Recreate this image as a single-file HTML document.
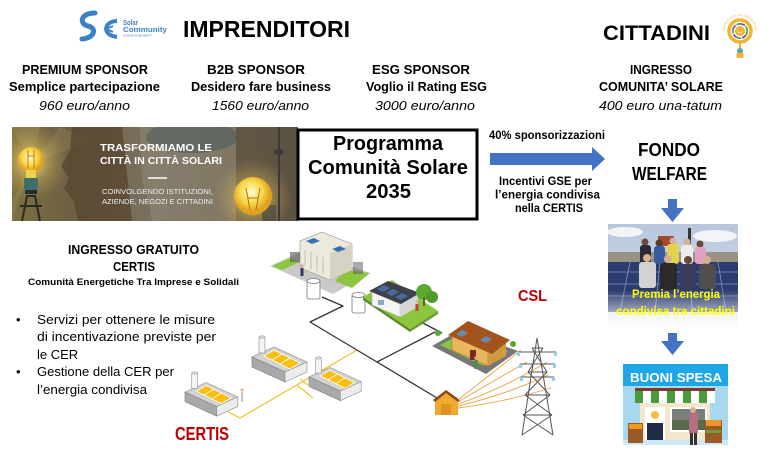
<!DOCTYPE html>
<html><head><meta charset="utf-8"><style>
html,body{margin:0;padding:0;background:#fff;}
svg{display:block}
text{font-family:"Liberation Sans",sans-serif;}
</style></head><body>
<svg width="778" height="458" viewBox="0 0 778 458" xmlns="http://www.w3.org/2000/svg">
<defs>
 <linearGradient id="bbg" x1="0" x2="1" y1="0" y2="0">
  <stop offset="0" stop-color="#7e6f40"/><stop offset="0.22" stop-color="#6c5f45"/>
  <stop offset="0.5" stop-color="#7a7262"/><stop offset="0.8" stop-color="#6b5f48"/>
  <stop offset="1" stop-color="#5a5244"/>
 </linearGradient>
 <radialGradient id="glow"><stop offset="0" stop-color="#fff2a0" stop-opacity="0.9"/><stop offset="0.5" stop-color="#e8c860" stop-opacity="0.35"/><stop offset="1" stop-color="#c8a850" stop-opacity="0"/></radialGradient>
 <radialGradient id="bulb" cx="0.45" cy="0.4"><stop offset="0" stop-color="#fffbd0"/><stop offset="0.6" stop-color="#f8d848"/><stop offset="1" stop-color="#e0a020"/></radialGradient>
 <linearGradient id="sky" x1="0" x2="0" y1="0" y2="1"><stop offset="0" stop-color="#b5c6de"/><stop offset="1" stop-color="#e4e7ec"/></linearGradient>
 <linearGradient id="fade" x1="0" x2="0" y1="0" y2="1"><stop offset="0" stop-color="#fff" stop-opacity="0"/><stop offset="0.55" stop-color="#fff" stop-opacity="0.55"/><stop offset="1" stop-color="#fff" stop-opacity="1"/></linearGradient>
 <clipPath id="bc"><rect x="12" y="127" width="286" height="94"/></clipPath>
 <clipPath id="pc"><rect x="608" y="224" width="130" height="106"/></clipPath>
 <g id="fac">
  <polygon points="0,22 22,12 55,27 33,37" fill="#d2d2d2" stroke="#8a8a8a" stroke-width="0.6"/>
  <polygon points="0,22 33,37 33,47 0,32" fill="#a9a9a9" stroke="#7a7a7a" stroke-width="0.6"/>
  <polygon points="33,37 55,27 55,37 33,47" fill="#ececec" stroke="#8a8a8a" stroke-width="0.6"/>
  <rect x="7" y="2" width="6" height="16" fill="#f4f4f4" stroke="#8a8a8a" stroke-width="0.6"/>
  <ellipse cx="10" cy="2" rx="3" ry="1.2" fill="#ddd" stroke="#8a8a8a" stroke-width="0.5"/>
  <polygon points="12,21 22,15 32,20 22,26" fill="#f6bf12" stroke="#fff" stroke-width="0.8"/>
  <polygon points="20,25 30,19 40,24 30,30" fill="#f6bf12" stroke="#fff" stroke-width="0.8"/>
  <polygon points="28,29 38,23 48,28 38,34" fill="#f6bf12" stroke="#fff" stroke-width="0.8"/>
 </g>
</defs>

<!-- Solar Community logo -->
<path d="M95 13 C80 13 79 24 88 26 C97 28 95 38 82 39" fill="none" stroke="#3b82c4" stroke-width="5" stroke-linecap="round"/>
<path d="M117 21 C104 21 101 35 117 37" fill="none" stroke="#3b82c4" stroke-width="4"/>
<path d="M113 26 L106 29 L113 32" fill="none" stroke="#3b82c4" stroke-width="2"/>
<text x="123" y="25" font-size="7" font-weight="bold" fill="#3b82c4" textLength="15" lengthAdjust="spacingAndGlyphs">Solar</text>
<text x="123" y="32" font-size="7" font-weight="bold" fill="#3b82c4" textLength="44" lengthAdjust="spacingAndGlyphs">Community</text>
<text x="123" y="36.5" font-size="3" fill="#3b82c4" textLength="29" lengthAdjust="spacingAndGlyphs">SOCIETÀ BENEFIT</text>

<text x="183" y="37" font-size="23" font-weight="bold" textLength="167" lengthAdjust="spacingAndGlyphs">IMPRENDITORI</text>
<text x="603" y="40" font-size="21" font-weight="bold" textLength="107" lengthAdjust="spacingAndGlyphs">CITTADINI</text>

<!-- Cittadini logo -->
<g>
 <path id="arcp" d="M725 31 A15 15 0 0 1 755 31" fill="none"/>
 <text font-size="3" fill="#f0b030"><textPath href="#arcp">CENTRO PER LA COMUNITÀ SOLARE</textPath></text>
 <circle cx="740" cy="31" r="11" fill="none" stroke="#f2b233" stroke-width="3.5"/>
 <circle cx="740" cy="31" r="7.2" fill="none" stroke="#4caf50" stroke-width="1.8" stroke-dasharray="6 4"/>
 <circle cx="740" cy="31" r="7.2" fill="none" stroke="#8e44ad" stroke-width="1.8" stroke-dasharray="4 6" stroke-dashoffset="5"/>
 <circle cx="740" cy="31" r="5" fill="#f2b233"/>
 <path d="M737.5 31.5 Q740 34 742.5 31.5" fill="none" stroke="#fff" stroke-width="0.8"/>
 <line x1="740" y1="42" x2="740" y2="49" stroke="#f2b233" stroke-width="2"/>
 <circle cx="740" cy="51" r="3" fill="#5aa9a0"/>
 <rect x="736.5" y="53" width="7" height="5" fill="#f2b233"/>
</g>

<!-- Sponsor columns -->
<g font-size="12.5" font-weight="bold">
 <text x="22" y="74" textLength="126" lengthAdjust="spacingAndGlyphs">PREMIUM SPONSOR</text>
 <text x="9" y="91" textLength="151" lengthAdjust="spacingAndGlyphs">Semplice partecipazione</text>
 <text x="207" y="74" textLength="98" lengthAdjust="spacingAndGlyphs">B2B SPONSOR</text>
 <text x="191" y="91" textLength="140" lengthAdjust="spacingAndGlyphs">Desidero fare business</text>
 <text x="372" y="74" textLength="98" lengthAdjust="spacingAndGlyphs">ESG SPONSOR</text>
 <text x="366" y="91" textLength="121" lengthAdjust="spacingAndGlyphs">Voglio il Rating ESG</text>
 <text x="630" y="74" textLength="62" lengthAdjust="spacingAndGlyphs">INGRESSO</text>
 <text x="599" y="91" textLength="124" lengthAdjust="spacingAndGlyphs">COMUNITA’ SOLARE</text>
</g>
<g font-size="12.5" font-style="italic">
 <text x="39" y="110" textLength="91" lengthAdjust="spacingAndGlyphs">960 euro/anno</text>
 <text x="212" y="110" textLength="97" lengthAdjust="spacingAndGlyphs">1560 euro/anno</text>
 <text x="375" y="110" textLength="100" lengthAdjust="spacingAndGlyphs">3000 euro/anno</text>
 <text x="599" y="110" textLength="123" lengthAdjust="spacingAndGlyphs">400 euro una-tatum</text>
</g>

<!-- Banner -->
<g clip-path="url(#bc)">
 <rect x="12" y="127" width="286" height="94" fill="url(#bbg)"/>
 <polygon points="31,165 12,127 40,127" fill="#b0a068" opacity="0.25"/>
 <polygon points="31,165 60,127 90,140" fill="#b0a068" opacity="0.2"/>
 <polygon points="31,165 12,200 12,221" fill="#b0a068" opacity="0.2"/>
 <circle cx="31" cy="162" r="38" fill="url(#glow)"/>
 <path d="M72 127 L122 127 L132 221 L78 221 L74 202 L64 188 L69 178 L61 166 L70 150 Z" fill="#57462f" opacity="0.75"/>
 <path d="M140 127 L236 127 L236 221 L152 221 L148 200 L142 180 Z" fill="#8d8574" opacity="0.6"/>
 <ellipse cx="192" cy="137" rx="46" ry="16" fill="#4b5b5e" opacity="0.55"/>
 <path d="M236 127 L298 127 L298 221 L236 221 Z" fill="#5c5040" opacity="0.5"/>
 <circle cx="253" cy="198" r="40" fill="url(#glow)"/>
 <line x1="279" y1="127" x2="279" y2="221" stroke="#3c3a36" stroke-width="2"/>
 <ellipse cx="279" cy="152" rx="5" ry="3" fill="#3c3a36"/>
 <rect x="262" y="205" width="14" height="16" fill="#4a4a44" opacity="0.7"/>
 <!-- left bulb -->
 <circle cx="31" cy="160" r="13" fill="url(#bulb)"/>
 <rect x="26" y="170" width="10" height="8" fill="#f2d050"/>
 <rect x="24" y="178" width="14" height="12" rx="2" fill="#3d6e6a"/>
 <rect x="25" y="190" width="12" height="4" fill="#1f2f30"/>
 <path d="M22 221 L27 196 L35 196 L40 221" fill="none" stroke="#2a2a22" stroke-width="2"/>
 <line x1="20" y1="206" x2="42" y2="206" stroke="#2a2a22" stroke-width="2"/>
 <path d="M28 150 L28 168 M34 150 L34 168 M28 156 L34 156" stroke="#c08020" stroke-width="1"/>
 <!-- right bulb -->
 <circle cx="253" cy="196" r="19" fill="url(#bulb)"/>
 <path d="M246 188 L250 210 M260 188 L256 210 M248 198 L258 198" stroke="#b07010" stroke-width="1"/>
 <text x="100" y="151" font-size="10" font-weight="bold" fill="#fff" textLength="112" lengthAdjust="spacingAndGlyphs">TRASFORMIAMO LE</text>
 <text x="100" y="164" font-size="10" font-weight="bold" fill="#fff" textLength="122" lengthAdjust="spacingAndGlyphs">CITTÀ IN CITTÀ SOLARI</text>
 <line x1="148" y1="178" x2="167" y2="178" stroke="#fff" stroke-width="1.5"/>
 <text x="102" y="194" font-size="7" fill="#eee" textLength="111" lengthAdjust="spacingAndGlyphs">COINVOLGENDO ISTITUZIONI,</text>
 <text x="102" y="204" font-size="7" fill="#eee" textLength="111" lengthAdjust="spacingAndGlyphs">AZIENDE, NEGOZI E CITTADINI</text>
</g>

<!-- Programma box -->
<rect x="298" y="130" width="179" height="89" fill="#fff" stroke="#000" stroke-width="3"/>
<g font-size="20" font-weight="bold">
 <text x="333" y="150" textLength="110" lengthAdjust="spacingAndGlyphs">Programma</text>
 <text x="308" y="174" textLength="160" lengthAdjust="spacingAndGlyphs">Comunità Solare</text>
 <text x="366" y="198" textLength="45" lengthAdjust="spacingAndGlyphs">2035</text>
</g>

<!-- Right arrow -->
<polygon points="490,153 592,153 592,147 605,159 592,171 592,165 490,165" fill="#4472c4"/>
<g font-size="12" font-weight="bold">
 <text x="489" y="139" textLength="116" lengthAdjust="spacingAndGlyphs">40% sponsorizzazioni</text>
 <text x="499" y="185" textLength="93" lengthAdjust="spacingAndGlyphs">Incentivi GSE per</text>
 <text x="495" y="198.5" textLength="105" lengthAdjust="spacingAndGlyphs">l’energia condivisa</text>
 <text x="515" y="212" textLength="68" lengthAdjust="spacingAndGlyphs">nella CERTIS</text>
</g>

<!-- Fondo Welfare -->
<text x="638" y="156" font-size="18" font-weight="bold" textLength="62" lengthAdjust="spacingAndGlyphs">FONDO</text>
<text x="632" y="180" font-size="18" font-weight="bold" textLength="75" lengthAdjust="spacingAndGlyphs">WELFARE</text>
<polygon points="668,199 677,199 677,208 684,208 672.5,222 661,208 668,208" fill="#4472c4"/>

<!-- Photo -->
<g clip-path="url(#pc)">
 <rect x="608" y="224" width="130" height="106" fill="url(#sky)"/>
 <ellipse cx="625" cy="232" rx="18" ry="5" fill="#f2f4f8"/>
 <ellipse cx="715" cy="236" rx="22" ry="6" fill="#f2f4f8"/>
 <rect x="608" y="252" width="130" height="10" fill="#9a9285"/>
 <rect x="658" y="236" width="16" height="10" fill="#a24a30"/>
 <rect x="688" y="228" width="3" height="16" fill="#333"/>
 <polygon points="608,262 738,262 738,312 608,312" fill="#2c3c6e"/>
 <path d="M608 272 H738 M608 284 H738 M608 296 H738 M630 262 L620 312 M660 262 L655 312 M690 262 L692 312 M718 262 L726 312" stroke="#8094c0" stroke-width="0.8"/>
 <!-- back row -->
 <circle cx="645" cy="242" r="3.5" fill="#6a4a3a"/><rect x="640" y="245" width="11" height="20" rx="3" fill="#2b2b38"/>
 <circle cx="659" cy="243" r="3.5" fill="#5a3a2a"/><rect x="654" y="246" width="11" height="18" rx="3" fill="#3a5aa0"/>
 <circle cx="673" cy="241" r="3.5" fill="#d8b090"/><rect x="667" y="244" width="12" height="20" rx="3" fill="#e2d44a"/>
 <circle cx="687" cy="242" r="3.5" fill="#d8b090"/><rect x="681" y="245" width="12" height="19" rx="3" fill="#ececec"/>
 <circle cx="700" cy="244" r="3.5" fill="#6a4a3a"/><rect x="695" y="247" width="11" height="17" rx="3" fill="#e0a2c4"/>
 <!-- front row -->
 <circle cx="647" cy="258" r="4" fill="#d8b090"/><rect x="639" y="262" width="17" height="26" rx="3" fill="#d2d2d2"/>
 <circle cx="668" cy="259" r="4" fill="#d8b090"/><rect x="660" y="263" width="17" height="27" rx="3" fill="#2a2a2a"/>
 <circle cx="688" cy="260" r="4" fill="#6a4a3a"/><rect x="680" y="264" width="16" height="26" rx="3" fill="#3a3a5a"/>
 <circle cx="707" cy="260" r="4" fill="#d8b090"/><rect x="699" y="264" width="17" height="25" rx="3" fill="#4e4e4e"/>
 <rect x="608" y="290" width="130" height="40" fill="url(#fade)"/>
 <text x="632" y="298" font-size="12" font-weight="bold" fill="#ffff00" textLength="88" lengthAdjust="spacingAndGlyphs">Premia l’energia</text>
 <text x="616" y="315" font-size="12" font-weight="bold" fill="#ffff00" textLength="119" lengthAdjust="spacingAndGlyphs">condivisa tra cittadini</text>
</g>

<polygon points="668,333 677,333 677,341 684,341 672.5,355 661,341 668,341" fill="#4472c4"/>

<!-- Buoni spesa shop -->
<rect x="623" y="385" width="105" height="60" fill="#a8d8f0"/>
<rect x="623" y="440" width="105" height="5" fill="#cfe8f6"/>
<rect x="623" y="364" width="105" height="22" fill="#1ea7e6"/>
<text x="630" y="382" font-size="13" font-weight="bold" fill="#fff" textLength="92" lengthAdjust="spacingAndGlyphs">BUONI SPESA</text>
<rect x="640" y="402" width="70" height="38" fill="#f2e6cc"/>
<rect x="635" y="388" width="80" height="3" fill="#7a3a30"/>
<g>
 <rect x="635" y="391" width="80" height="12" fill="#fff"/>
 <rect x="635" y="391" width="8" height="12" fill="#4a9a3a"/>
 <rect x="651" y="391" width="8" height="12" fill="#4a9a3a"/>
 <rect x="667" y="391" width="8" height="12" fill="#4a9a3a"/>
 <rect x="683" y="391" width="8" height="12" fill="#4a9a3a"/>
 <rect x="699" y="391" width="8" height="12" fill="#4a9a3a"/>
</g>
<rect x="645" y="407" width="20" height="33" fill="#fff"/>
<rect x="647" y="423" width="16" height="17" fill="#1f2a44"/>
<circle cx="655" cy="415" r="4" fill="#f2c040"/>
<rect x="670" y="407" width="37" height="25" fill="#fff"/>
<rect x="672" y="409" width="33" height="21" fill="#7a7f7a"/>
<rect x="672" y="420" width="33" height="10" fill="#5a6a4a"/>
<circle cx="693" cy="410" r="3" fill="#d8b090"/>
<rect x="689" y="413" width="9" height="20" fill="#b47082"/>
<rect x="690" y="433" width="3" height="12" fill="#333"/><rect x="694" y="433" width="3" height="12" fill="#333"/>
<rect x="628" y="423" width="15" height="20" fill="#9a5a28"/>
<rect x="629" y="424" width="13" height="5" fill="#f29a20"/>
<rect x="705" y="420" width="17" height="23" fill="#9a5a28"/>
<rect x="706" y="420" width="15" height="6" fill="#f2962a"/>
<rect x="706" y="430" width="15" height="3" fill="#6aa040"/>

<!-- Left bottom text -->
<g font-size="12.5" font-weight="bold">
 <text x="68" y="254" textLength="131" lengthAdjust="spacingAndGlyphs">INGRESSO GRATUITO</text>
 <text x="113" y="271" textLength="42" lengthAdjust="spacingAndGlyphs">CERTIS</text>
</g>
<text x="28" y="285" font-size="9.5" font-weight="bold" textLength="211" lengthAdjust="spacingAndGlyphs">Comunità Energetiche Tra Imprese e Solidali</text>
<g font-size="13">
 <text x="16" y="324">•</text>
 <text x="37" y="324" textLength="178" lengthAdjust="spacingAndGlyphs">Servizi per ottenere le misure</text>
 <text x="37" y="341" textLength="179" lengthAdjust="spacingAndGlyphs">di incentivazione previste per</text>
 <text x="37" y="359">le CER</text>
 <text x="16" y="376">•</text>
 <text x="37" y="376" textLength="137" lengthAdjust="spacingAndGlyphs">Gestione della CER per</text>
 <text x="37" y="394" textLength="110" lengthAdjust="spacingAndGlyphs">l’energia condivisa</text>
</g>
<text x="175" y="440" font-size="18" font-weight="bold" fill="#c00000" textLength="54" lengthAdjust="spacingAndGlyphs">CERTIS</text>
<text x="518" y="301" font-size="16" font-weight="bold" fill="#c00000" textLength="29" lengthAdjust="spacingAndGlyphs">CSL</text>

<!-- Network lines -->
<g fill="none" stroke-linejoin="round">
 <path d="M228 412 L240 418 L357 350" stroke="#f2c030" stroke-width="1.2"/>
 <path d="M297 385 L313 398" stroke="#f2c030" stroke-width="1.2"/>
 <path d="M300 379 L308 385" stroke="#f2c030" stroke-width="1.2"/>
 <path d="M322 297 L343 306 L310 322 L377 362 L437 398" stroke="#333" stroke-width="1.3"/>
 <path d="M377 362 L435 332" stroke="#333" stroke-width="1.3"/>
 <path d="M417 320 L442 333" stroke="#333" stroke-width="1.3"/>
</g>

<!-- Factories -->
<use href="#fac" transform="translate(185,371) scale(0.96)"/>
<use href="#fac" transform="translate(252,335)"/>
<use href="#fac" transform="translate(309,356) scale(0.95)"/>
<g stroke="#888" stroke-width="1"><line x1="242" y1="392" x2="242" y2="402"/></g>
<circle cx="242" cy="390" r="1.5" fill="#d8b090"/>

<!-- Town hall -->
<polygon points="270,266 305,250 370,273 333,294" fill="#c9c9c9"/>
<polygon points="345,270 370,273 352,288 335,281" fill="#8cc63f"/>
<polygon points="272,266 290,258 300,262 282,270" fill="#8cc63f"/>
<polygon points="300,241 322,232 352,244 352,270 330,280 300,268" fill="#eceadd" stroke="#a8a698" stroke-width="0.7"/>
<polygon points="330,253 352,244 352,270 330,280" fill="#d6d3c4"/>
<path d="M305 250 V266 M311 252 V269 M317 255 V271 M323 257 V274" stroke="#b8b6a8" stroke-width="0.8"/>
<polygon points="306,241 314,238 320,241 312,244" fill="#3a6fb8"/>
<polygon points="332,249 340,246 346,249 338,252" fill="#3a6fb8"/>
<rect x="290" y="252" width="10" height="10" fill="#555" opacity="0.6"/>
<rect x="353" y="262" width="10" height="12" fill="#555" opacity="0.5"/>
<circle cx="302" cy="266" r="1.8" fill="#d8b090"/><rect x="300.5" y="268" width="3" height="8" fill="#2a3a6a"/>
<!-- tanks -->
<g fill="#fff" stroke="#777" stroke-width="0.8">
 <rect x="307" y="281" width="13" height="18" rx="2"/><ellipse cx="313.5" cy="281" rx="6.5" ry="2.5"/>
 <rect x="352" y="295" width="13" height="18" rx="2"/><ellipse cx="358.5" cy="295" rx="6.5" ry="2.5"/>
</g>

<!-- House 1 -->
<polygon points="363,297 392,280 438,311 410,329" fill="#8cc63f"/>
<polygon points="363,297 410,329 410,332 363,300" fill="#5a8a2a"/>
<polygon points="410,329 438,311 438,314 410,332" fill="#6a9a30"/>
<polygon points="372,292 400,304 400,317 372,305" fill="#f4f4f4" stroke="#aaa" stroke-width="0.5"/>
<polygon points="400,304 418,294 418,307 400,317" fill="#d6d6d6"/>
<polygon points="369,291 388,281 420,293 401,304" fill="#3d414c"/>
<polygon points="377,289 384,285 390,288 383,292" fill="#4a6a9a"/>
<polygon points="386,293 393,289 399,292 392,296" fill="#4a6a9a"/>
<polygon points="395,297 402,293 408,296 401,300" fill="#4a6a9a"/>
<rect x="378" y="300" width="6" height="5" fill="#8ab" />
<circle cx="424" cy="292" r="8" fill="#5aa832"/><circle cx="432" cy="297" r="6" fill="#4e9a2a"/>
<rect x="423" y="298" width="2" height="8" fill="#7a5030"/>
<circle cx="417" cy="302" r="1.5" fill="#d8b090"/><rect x="415.5" y="304" width="3" height="7" fill="#c04040"/>

<!-- House 2 -->
<polygon points="432,346 460,330 518,351 486,374" fill="#777"/>
<polygon points="440,345 462,334 508,351 484,366" fill="#8cc63f"/>
<polygon points="452,336 488,352 488,366 452,350" fill="#e8b65c" stroke="#a0702a" stroke-width="0.5"/>
<polygon points="488,352 506,342 506,356 488,366" fill="#d09a40"/>
<polygon points="448,335 468,321 510,340 492,354" fill="#a3541e"/>
<polygon points="456,334 462,330 468,333 462,337" fill="#6a8ab0"/>
<polygon points="480,340 486,336 492,339 486,343" fill="#6a8ab0"/>
<rect x="470" y="350" width="6" height="10" fill="#7a2a20"/>
<circle cx="438" cy="333" r="3" fill="#5aa832"/><circle cx="513" cy="344" r="3" fill="#5aa832"/>
<circle cx="476" cy="358" r="1.8" fill="#d8b090"/><rect x="474.5" y="360" width="3" height="9" fill="#4a8a4a"/>

<!-- Substation -->
<polygon points="435,400 446,392 458,400 458,415 435,415" fill="#f0a830"/>
<polygon points="433,400 446,390 460,400 458,402 446,393 435,402" fill="#8a4a18"/>
<rect x="441" y="404" width="10" height="11" fill="#e09420"/>

<!-- orange lines to tower -->
<g stroke="#f0a040" stroke-width="0.9" fill="none">
 <path d="M458 400 Q490 375 521 350"/>
 <path d="M458 402 Q495 380 527 362"/>
 <path d="M458 404 Q500 390 547 362"/>
 <path d="M458 406 Q505 395 548 375"/>
 <path d="M458 408 Q505 402 551 388"/>
</g>

<!-- Tower -->
<g stroke="#555" stroke-width="1" fill="none">
 <path d="M537 338 L522 435 M537 338 L553 435"/>
 <path d="M532 348 L543 348 M528 372 L547 372 M525 395 L550 395 M523 415 L552 415"/>
 <path d="M532 348 L547 372 M543 348 L528 372 M528 372 L550 395 M547 372 L525 395 M525 395 L552 415 M550 395 L523 415 M523 415 L553 435 M552 415 L522 435"/>
 <path d="M518 352 L556 352 M520 364 L555 364 M521 377 L554 377"/>
</g>
<g fill="#8fd0f0">
 <rect x="517" y="352" width="3" height="4"/><rect x="554" y="352" width="3" height="4"/>
 <rect x="519" y="364" width="3" height="4"/><rect x="553" y="364" width="3" height="4"/>
 <rect x="520" y="377" width="3" height="4"/><rect x="552" y="377" width="3" height="4"/>
</g>
</svg>
</body></html>
